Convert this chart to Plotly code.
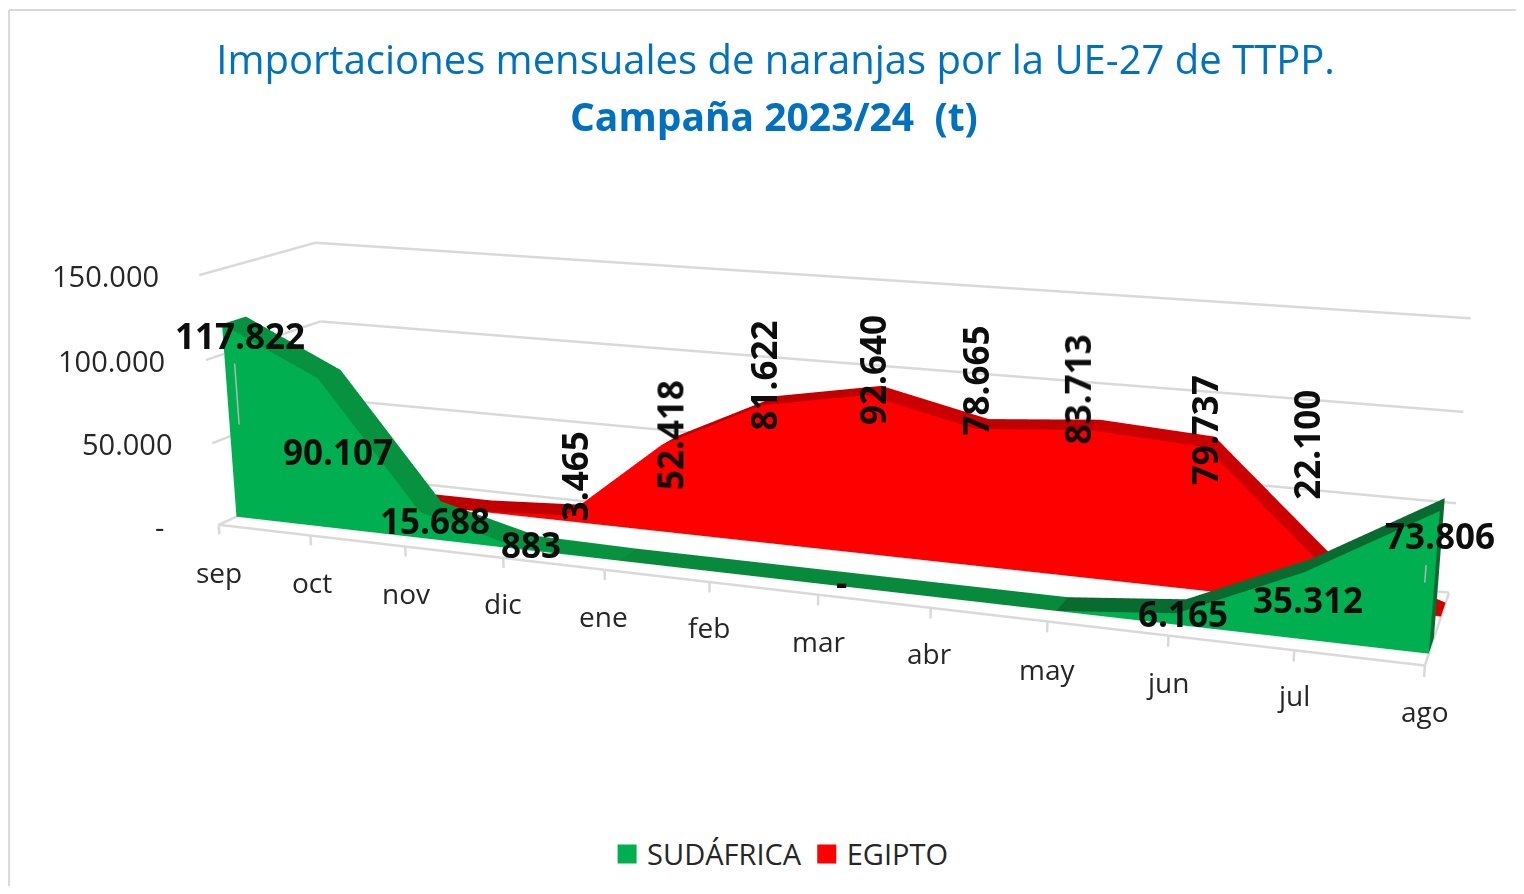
import plotly.graph_objects as go

months = ["sep","oct","nov","dic","ene","feb","mar","abr","may","jun","jul","ago"]
sudafrica = [117822, 90107, 15688, 883, 0, 0, 0, 0, 0, 6165, 35312, 73806]
egipto = [0, 0, 0, 3465, 52418, 81622, 92640, 78665, 83713, 79737, 22100, 0]
sa_labels = {0:"117.822",1:"90.107",2:"15.688",3:"883",6:"-",9:"6.165",10:"35.312",11:"73.806"}
eg_labels = {3:"3.465",4:"52.418",5:"81.622",6:"92.640",7:"78.665",8:"83.713",9:"79.737",10:"22.100"}
z_ticks = [0, 50000, 100000, 150000]
z_text = ["-", "50.000", "100.000", "150.000"]

# depth bands of the two series on the depth axis
SA_Y = (0.15, 0.35)
EG_Y = (0.65, 0.85)
ZMAX = 150000
# the original's oblique 3D view, expressed as shears of the scene axes
K_Y, K_Z, R_Y, R_Z = -4.49866, -4.15412, 1.25797, 79.08451

# pixel nudges for text
sa_shift = [[6,-15],[9,-77],[4,-14],[3,-3],[4,-3],[2,-7],[0,-34],[-2,-31]]
eg_shift = [[-1,34],[0,5],[-6,25],[-2,20],[-7,44],[-17,35],[-5,12],[-17,112]]
mo_shift = [[0,-47],[2,-47],[1,-46],[0,-45],[-1,-46],[0,-45],[0,-46],[-1,-45],[0,-48],[-1,-46],[-1,-45],[0,-45]]
zt_shift = [[-53,-2],[-37,0],[-39,0],[-38,0]]

LIGHT = dict(ambient=1, diffuse=0, specular=0, roughness=1, fresnel=0)
FONT = "Open Sans"
TXT = "#262626"
GRID = "#D9D9D9"

def sx(m, y, z):
    return m + K_Y * y + K_Z * z / ZMAX

def sy(m, y):
    return y + R_Y * (m - 5.5)

def sz(m, z):
    return z + R_Z * (m - 5.5)

def area(values, band, front, rise, flat, fall):
    y0, y1 = band
    n = len(values)
    xs, ys, zs = [], [], []
    def v(m, y, z):
        xs.append(sx(m, y, z)); ys.append(sy(m, y)); zs.append(sz(m, z))
        return len(xs) - 1
    fi, fj, fk = [], [], []
    ti, tj, tk, tc = [], [], [], []
    for m in range(n - 1):
        a = v(m, y0, 0); b = v(m + 1, y0, 0); c = v(m + 1, y0, values[m + 1]); d = v(m, y0, values[m])
        fi += [a, a]; fj += [b, c]; fk += [c, d]
        e = v(m, y1, values[m]); f = v(m + 1, y1, values[m + 1])
        ti += [d, d]; tj += [c, f]; tk += [f, e]
        col = rise if values[m + 1] > values[m] else (fall if values[m + 1] < values[m] else flat)
        tc += [col, col]
    a = v(n - 1, y0, 0); b = v(n - 1, y1, 0); c = v(n - 1, y1, values[-1]); d = v(n - 1, y0, values[-1])
    ti += [a, a]; tj += [b, c]; tk += [c, d]; tc += [rise, rise]
    common = dict(x=xs, y=ys, z=zs, lighting=LIGHT, flatshading=True, hoverinfo="skip", showlegend=False, showscale=False)
    return [go.Mesh3d(i=fi, j=fj, k=fk, color=front, **common),
            go.Mesh3d(i=ti, j=tj, k=tk, facecolor=tc, **common)]

traces = []

# wall gridlines, floor outline and tick marks
gx, gy, gz = [], [], []
def seg(p, q):
    gx.extend([sx(*p), sx(*q), None]); gy.extend([sy(p[0], p[1]), sy(q[0], q[1]), None]); gz.extend([sz(p[0], p[2]), sz(q[0], q[2]), None])
last = len(months) - 1
for z in z_ticks:
    seg((0, 1, z), (last, 1, z))
    seg((0, 0, z), (0, 1, z))
seg((0, 0, 0), (last, 0, 0))
seg((last, 0, 0), (last, 1, 0))
for m in range(len(months)):
    seg((m, 0, 0), (m, 0, -6000))
traces.append(go.Scatter3d(x=gx, y=gy, z=gz, mode="lines", line=dict(color=GRID, width=5), hoverinfo="skip", showlegend=False))

traces += area(egipto, EG_Y, "#FF0000", "#C00000", "#C00000", "#CC0000")
traces += area(sudafrica, SA_Y, "#00B050", "#0A6B30", "#078A3C", "#06923F")

# leader lines of the two end labels
lx, ly, lz = [], [], []
for m, z0, z1 in [(0.12, 58000, 95000), (10.93, 37000, 46000)]:
    lx += [sx(m, 0.14, z0), sx(m, 0.14, z1), None]; ly += [sy(m, 0.14), sy(m, 0.14), None]; lz += [sz(m, z0), sz(m, z1), None]
traces.append(go.Scatter3d(x=lx, y=ly, z=lz, mode="lines", line=dict(color="#B4B4B4", width=3), hoverinfo="skip", showlegend=False))

# legend entries
for name, col in [("SUDÁFRICA", "#00B050"), ("EGIPTO", "#FF0000")]:
    traces.append(go.Scatter3d(x=[None], y=[None], z=[None], mode="markers", name=name,
                               marker=dict(symbol="square", color=col, size=30, line=dict(color=col, width=3))))

ann = []
for (m, t), (dx, dy) in zip(sa_labels.items(), sa_shift):
    ann.append(dict(x=sx(m, 0.25, sudafrica[m]), y=sy(m, 0.25), z=sz(m, sudafrica[m]), text="<b>%s</b>" % t, showarrow=False, xshift=dx, yshift=dy,
                    font=dict(family=FONT, size=35, color="#0D0D0D")))
for (m, t), (dx, dy) in zip(eg_labels.items(), eg_shift):
    ann.append(dict(x=sx(m, 0.75, egipto[m]), y=sy(m, 0.75), z=sz(m, egipto[m]), text="<b>%s</b>" % t, textangle=-90, showarrow=False, xshift=dx, yshift=dy,
                    font=dict(family=FONT, size=35, color="#0D0D0D")))
for m, (lab, (dx, dy)) in enumerate(zip(months, mo_shift)):
    ann.append(dict(x=sx(m, 0, 0), y=sy(m, 0), z=sz(m, 0), text=lab, showarrow=False, xshift=dx, yshift=dy, font=dict(family=FONT, size=28, color=TXT)))
for z, lab, (dx, dy) in zip(z_ticks, z_text, zt_shift):
    ann.append(dict(x=sx(0, 0, z), y=sy(0, 0), z=sz(0, z), text=lab, showarrow=False, xanchor="right", xshift=dx, yshift=dy, font=dict(family=FONT, size=29, color=TXT)))

axis_off = dict(showgrid=False, zeroline=False, showline=False, showticklabels=False, showbackground=False, title="", ticks="", showspikes=False)

fig = go.Figure(traces)
fig.update_layout(
    width=1508, height=878, margin=dict(l=0, r=0, t=0, b=0), paper_bgcolor="white",
    font=dict(family=FONT, color=TXT),
    title=dict(text="Importaciones mensuales de naranjas por la UE-27 de TTPP.", x=0.509, xanchor="center", y=0.9408, yanchor="middle",
               font=dict(family=FONT, size=40, color="#0070C0")),
    annotations=[dict(text="<b>Campaña 2023/24  (t)</b>", x=0.508, y=0.877, xref="paper", yref="paper", xanchor="center", yanchor="middle",
                      showarrow=False, font=dict(family=FONT, size=39, color="#0070C0"))],
    shapes=[dict(type="line", xref="paper", yref="paper", x0=0.0007, x1=0.0007, y0=0, y1=0.9977, line=dict(color=GRID, width=2)),
            dict(type="line", xref="paper", yref="paper", x0=0.0007, x1=1, y0=0.9977, y1=0.9977, line=dict(color=GRID, width=2))],
    legend=dict(orientation="h", x=0.512, xanchor="center", y=0.0364, yanchor="middle", font=dict(family=FONT, size=29, color=TXT), itemsizing="trace"),
    scene=dict(
        domain=dict(x=[0, 1], y=[0, 1]),
        xaxis=dict(range=[-10, 22], **axis_off),
        yaxis=dict(range=[-8.5, 9.5], **axis_off),
        zaxis=dict(range=[-60000, 210000], **axis_off),
        aspectmode="manual", aspectratio=dict(x=2.4626, y=5.0082, z=1.4675),
        camera=dict(eye=dict(x=2.74101, y=-0.20759, z=1.65554), center=dict(x=-0.27419, y=-0.13801, z=-0.01502), up=dict(x=0, y=0, z=1),
                    projection=dict(type="perspective")),
        annotations=ann,
    ),
)
fig.write_html("out.html")
